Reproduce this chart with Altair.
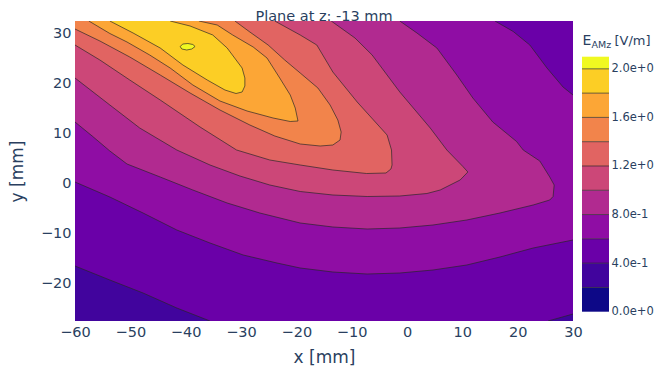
import altair as alt
import pandas as pd

# ---------------- data ----------------
x_range = [-60, 30]
y_range = [-27.5, 32.5]
x_ticks = [-60, -50, -40, -30, -20, -10, 0, 10, 20, 30]
y_ticks = [-20, -10, 0, 10, 20, 30]

level_names = ["0.0", "0.2", "0.4", "0.6", "0.8", "1.0", "1.2", "1.4", "1.6", "1.8", "2.0"]
level_colors = ["#0d0887", "#41049d", "#6a00a8", "#8f0da4", "#b12a90", "#cc4778",
                "#e16462", "#f2844b", "#fca636", "#fcce25", "#f0f921"]
cb_low = [0.0, 0.2, 0.4, 0.6, 0.8, 1.0, 1.2, 1.4, 1.6, 1.8, 2.0]
cb_high = [0.2, 0.4, 0.6, 0.8, 1.0, 1.2, 1.4, 1.6, 1.8, 2.0, 2.1]
cb_ticks = [0.0, 0.4, 0.8, 1.2, 1.6, 2.0]
cb_edges = [0.2, 0.4, 0.6, 0.8, 1.0, 1.2, 1.4, 1.6, 1.8, 2.0]

# contour lines (x in mm, y in mm)
c04_bl_x = [-60.0, -53.7, -47.7, -41.6, -35.6]
c04_bl_y = [-16.5, -19.3, -21.9, -24.9, -27.5]
c04_br_x = [25.5, 30.0]
c04_br_y = [-27.5, -26.1]

c06_low_x = [-60.0, -53.7, -47.7, -41.6, -35.6, -29.6, -23.5, -19.3, -13.4, -7.2, -1.3, 4.7, 10.8, 16.8, 22.8, 30.0]
c06_low_y = [0.3, -2.7, -5.9, -9.3, -11.9, -14.3, -15.9, -16.9, -17.7, -18.1, -17.9, -17.3, -16.3, -14.7, -12.9, -11.3]
c06_top_x = [15.9, 19.2, 22.2, 25.3, 28.2, 30.0]
c06_top_y = [32.5, 30.4, 27.7, 23.1, 19.3, 17.7]

c08_x = [-60.0, -56.9, -53.7, -50.6, -44.6, -38.7, -32.5, -26.6, -19.3, -13.4, -7.2, -1.3, 4.7, 10.8, 16.8,
         22.8, 25.8, 26.4, 26.6, 25.8, 24.0, 21.0, 19.8, 15.5, 11.9, 9.0, 5.4, 1.8, -1.3]
c08_y = [12.3, 9.5, 6.5, 3.9, 1.3, -1.3, -3.9, -5.9, -7.9, -8.7, -9.1, -8.9, -8.3, -7.3, -5.9,
         -4.3, -3.3, -2.6, -0.3, 1.3, 4.5, 6.7, 8.4, 12.3, 17.1, 21.7, 27.1, 30.1, 32.5]

c10_x = [-60.0, -53.7, -48.3, -41.6, -35.6, -30.2, -24.8, -19.3, -13.4, -7.2, -1.3, 3.6, 6.0, 9.6, 11.0,
         10.1, 7.2, 4.2, -1.3, -6.3, -9.4, -13.7]
c10_y = [21.1, 15.7, 11.1, 6.7, 3.7, 1.5, -0.3, -1.6, -2.3, -2.6, -2.5, -2.0, -1.3, 0.7, 2.3,
         3.4, 6.7, 11.1, 18.3, 25.7, 29.1, 32.5]

c12_x = [-60.0, -55.5, -50.1, -44.6, -37.4, -30.8, -24.8, -19.3, -13.4, -7.3, -3.8, -2.9, -2.7, -2.8,
         -3.6, -9.0, -13.4, -16.3, -19.3, -23.9]
c12_y = [27.7, 24.7, 20.7, 16.7, 11.3, 6.7, 4.7, 3.7, 2.7, 2.0, 2.1, 2.9, 3.7, 6.7,
         9.7, 16.3, 22.3, 27.7, 29.7, 32.5]

c14_x = [-60.0, -55.5, -50.1, -44.6, -39.2, -33.8, -28.4, -23.9, -19.3, -15.7, -13.4, -12.1, -11.9,
         -12.5, -13.9, -16.1, -19.3, -22.1, -25.1, -28.4, -31.1]
c14_y = [30.9, 28.5, 25.3, 21.7, 18.1, 14.7, 11.7, 9.5, 7.9, 7.5, 7.7, 8.7, 10.3,
         12.7, 15.7, 19.1, 22.1, 24.7, 27.7, 30.3, 32.5]

c16_x = [-57.5, -53.7, -50.6, -46.5, -42.8, -38.7, -33.8, -28.9, -24.2, -21.1, -19.7, -20.2, -21.1,
         -23.0, -25.3, -27.8, -31.5, -34.3, -37.6]
c16_y = [32.5, 30.0, 28.3, 25.7, 23.1, 19.7, 16.5, 14.5, 13.1, 12.4, 12.5, 15.1, 17.7,
         21.1, 25.1, 27.3, 29.7, 31.7, 32.5]

c18_x = [-53.7, -49.5, -44.6, -40.5, -36.1, -32.9, -30.9, -29.8, -29.3, -29.3, -29.8, -32.5, -35.1, -39.2, -42.8]
c18_y = [32.5, 30.1, 27.1, 23.7, 20.7, 18.7, 18.0, 18.3, 19.5, 21.1, 23.1, 27.1, 29.7, 31.5, 32.5]

c20_x = [-41.0, -40.5, -39.6, -38.7, -38.3, -38.9, -39.8, -40.7]
c20_y = [27.4, 27.9, 28.0, 27.8, 27.4, 26.9, 26.7, 26.9]

title_text = ["Plane at z: -13 mm"]
x_title = "x [mm]"
y_title = "y [mm]"
cb_title_parts = ["E", "AMz", "[V/m]"]

# ---------------- build tables ----------------
X0, X1 = x_range
Y0, Y1 = y_range
polys = [
    ("0.2", [X0, X1, X1, X0], [Y0, Y0, Y1, Y1]),
    ("0.4", c04_bl_x + c04_br_x + [X1, X0], c04_bl_y + c04_br_y + [Y1, Y1]),
    ("0.6", c06_low_x + c06_top_x[::-1] + [X0], c06_low_y + c06_top_y[::-1] + [Y1]),
    ("0.8", c08_x + [X0], c08_y + [Y1]),
    ("1.0", c10_x + [X0], c10_y + [Y1]),
    ("1.2", c12_x + [X0], c12_y + [Y1]),
    ("1.4", c14_x + [X0], c14_y + [Y1]),
    ("1.6", c16_x, c16_y),
    ("1.8", c18_x, c18_y),
    ("2.0", c20_x, c20_y),
]
lines = [
    ("a", c04_bl_x, c04_bl_y), ("b", c04_br_x, c04_br_y),
    ("c", c06_low_x, c06_low_y), ("d", c06_top_x, c06_top_y),
    ("e", c08_x, c08_y), ("f", c10_x, c10_y), ("g", c12_x, c12_y),
    ("h", c14_x, c14_y), ("i", c16_x, c16_y), ("j", c18_x, c18_y),
    ("k", c20_x + c20_x[:1], c20_y + c20_y[:1]),
]
line_rows = []
for name, xs_, ys_ in lines:
    for k, (a, b) in enumerate(zip(xs_, ys_)):
        line_rows.append({"line": name, "i": k, "x": a, "y": b})
lines_df = pd.DataFrame(line_rows)

cb_df = pd.DataFrame({"lo": cb_low, "hi": cb_high, "level": level_names})
cb_edge_df = pd.DataFrame({"v": cb_edges})

# ---------------- chart ----------------
FONT = "DejaVu Sans"
TXT = "#2a3f5f"
LINE = "#262626"
xs = alt.Scale(domain=x_range, nice=False, zero=False)
ys = alt.Scale(domain=y_range, nice=False, zero=False)
fill_scale = alt.Scale(domain=level_names, range=level_colors)

x_enc = alt.X("x:Q", scale=xs, title=x_title,
              axis=alt.Axis(values=x_ticks, labelPadding=4, titlePadding=11, labelFlush=False))
y_enc = alt.Y("y:Q", scale=ys, title=y_title,
              axis=alt.Axis(values=y_ticks, labelPadding=4, titlePadding=14))

layers = []
for name, xs_, ys_ in polys:
    df = pd.DataFrame({"x": xs_, "y": ys_, "i": list(range(len(xs_))), "level": name})
    layers.append(
        alt.Chart(df).mark_line(strokeWidth=0, clip=True).encode(
            x=x_enc, y=y_enc,
            fill=alt.Fill("level:N", scale=fill_scale, legend=None),
            order=alt.Order("i:Q"),
        )
    )
layers.append(
    alt.Chart(lines_df).mark_line(color=LINE, strokeWidth=0.75, opacity=0.9, clip=True).encode(
        x=x_enc, y=y_enc, detail="line:N", order=alt.Order("i:Q")
    )
)
main = alt.layer(*layers)

cb_scale = alt.Scale(domain=[0, 2.1], range=[290.7, 35.7], nice=False, zero=False)
cb_axis = alt.Axis(orient="right", offset=36, values=cb_ticks, format=".1e", ticks=False, domain=False,
                   grid=False, labelPadding=2, labelFontSize=11.5, title=None)
cb_rects = alt.Chart(cb_df).mark_rect().encode(
    x=alt.value(507), x2=alt.value(534),
    y=alt.Y("lo:Q", scale=cb_scale, axis=cb_axis), y2="hi:Q",
    fill=alt.Fill("level:N", scale=fill_scale, legend=None),
)
cb_rules = alt.Chart(cb_edge_df).mark_rule(color=LINE, strokeWidth=0.75, opacity=0.9).encode(
    x=alt.value(507), x2=alt.value(534),
    y=alt.Y("v:Q", scale=cb_scale, axis=cb_axis),
)
t1 = alt.Chart(pd.DataFrame({"t": [cb_title_parts[0]]})).mark_text(
    align="left", baseline="alphabetic", fontSize=14, font=FONT, color=TXT
).encode(x=alt.value(507.5), y=alt.value(24), text="t:N")
t2 = alt.Chart(pd.DataFrame({"t": [cb_title_parts[1]]})).mark_text(
    align="left", baseline="alphabetic", fontSize=9.5, font=FONT, color=TXT
).encode(x=alt.value(516.5), y=alt.value(26.5), text="t:N")
t3 = alt.Chart(pd.DataFrame({"t": [cb_title_parts[2]]})).mark_text(
    align="left", baseline="alphabetic", fontSize=13, font=FONT, color=TXT
).encode(x=alt.value(539.5), y=alt.value(24), text="t:N")
head = alt.Chart(pd.DataFrame({"t": title_text})).mark_text(
    align="center", baseline="alphabetic", fontSize=14.5, font=FONT, color=TXT
).encode(x=alt.value(249), y=alt.value(-0.5), text="t:N")
cbar = alt.layer(cb_rects, cb_rules, t1, t2, t3, head)

chart = alt.layer(main, cbar).resolve_scale(y="independent").properties(
    width=498, height=300,
    padding={"left": 67, "top": 13, "right": 81, "bottom": 45},
    autosize=alt.AutoSizeParams(type="none"),
).configure_view(stroke=None).configure_axis(
    labelFont=FONT, labelFontSize=14.5, labelColor=TXT, titleFont=FONT, titleFontSize=17,
    titleFontWeight="normal", titleColor=TXT, grid=False, ticks=False, domain=False,
)

chart.save("out.html", embed_options={"renderer": "svg", "actions": False})
